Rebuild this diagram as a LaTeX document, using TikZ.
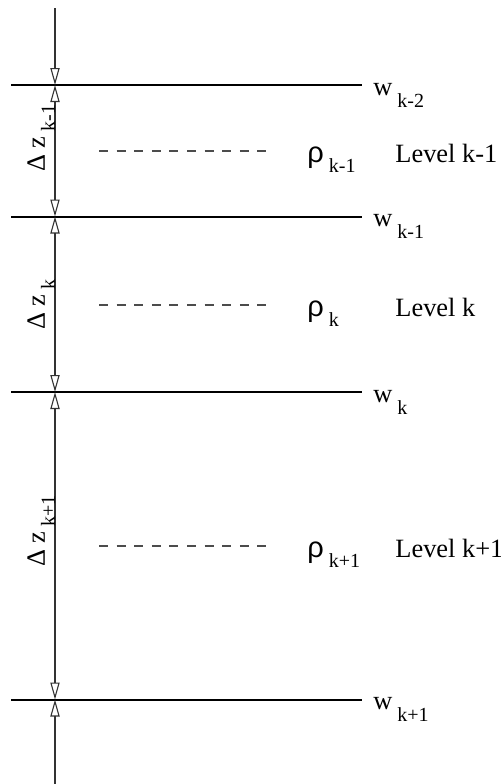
\documentclass[tikz,border=0pt]{standalone}
\usepackage{fontspec}
\setmainfont{Liberation Serif}
\newfontfamily\rhofont{Liberation Sans}
\usetikzlibrary{arrows.meta}
\newcommand{\lowsub}[2][6pt]{\hspace{2.5pt}\raisebox{-#1}{\fontsize{10}{12}\selectfont #2}}

\tikzset{
	interface/.style={line width=1pt},
	axis/.style={line width=0.6pt, black!80},
	levelmark/.style={line width=0.6pt, black!70, dash pattern=on 4.5pt off 4.3pt},
	opentip/.tip={Triangle[open, length=8.5pt, width=4.6pt, line width=0.55pt]},
}

\begin{document}
\begin{tikzpicture}[x=0.5pt, y=-0.5pt, every node/.style={font=\fontsize{13.2}{16}\selectfont, inner sep=0pt}]
	\useasboundingbox (0,0) rectangle (501,784);
	\coordinate (top) at (55,8);
	\coordinate (bot) at (55,784);
	% interfaces
	\foreach \n/\y/\sub in {0/85/k-2, 1/216.5/k-1, 2/392/k, 3/699.5/k+1} {
		\draw[interface] (11,\y) -- (362,\y);
		\coordinate (i\n) at (55,\y);
		\node[anchor=base west] (w\n) at (373,\y+10) {w\lowsub{\sub}};
	}
	\draw[axis, -opentip] (top) -- (i0);
	\foreach \a/\b in {0/1, 1/2, 2/3}
		\draw[axis, opentip-opentip] (i\a) -- (i\b);
	\draw[axis, opentip-] (i3) -- (bot);
	% levels
	\foreach \n/\y/\sub/\dzy in {1/162/k-1/172, 2/316/k/330, 3/557/k+1/567} {
		\draw[levelmark] (99,\y-11) -- (266,\y-11);
		\node[anchor=base west] (rho\n) at (307,\y) {{\rhofont\fontsize{14.5}{16}\selectfont ρ}\lowsub[5pt]{\sub}};
		\node[anchor=base west] (lev\n) at (395,\y) {Level \sub};
		\node[anchor=base west, rotate=90] (dz\n) at (45,\dzy) {Δ z\lowsub[5pt]{\sub}};
	}
\end{tikzpicture}
\end{document}
